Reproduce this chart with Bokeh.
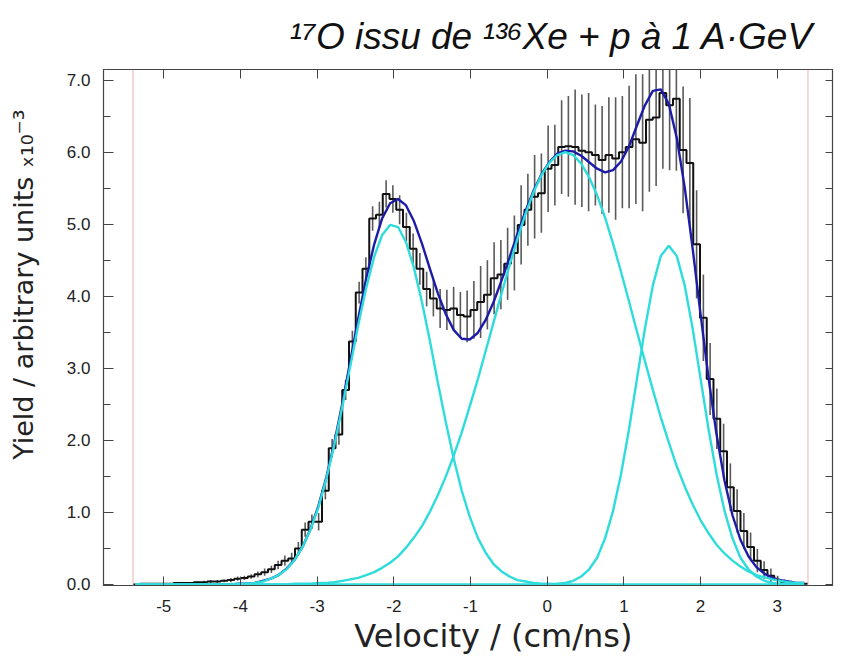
import numpy as np
from bokeh.plotting import figure
from bokeh.models import (Range1d, LinearAxis, SingleIntervalTicker,
                          NumeralTickFormatter, Span, Title)
from bokeh.embed import file_html
from bokeh.resources import INLINE

# ---------------- data ----------------
# histogram: 100 bins of width 0.088 cm/ns starting at -5.4 cm/ns
hist_start = -5.4
hist_bin = 0.088
hist_counts = [
    0.00, 0.01, 0.01, 0.01, 0.01, 0.01, 0.02, 0.02, 0.02, 0.03,
    0.03, 0.04, 0.04, 0.05, 0.06, 0.08, 0.09, 0.11, 0.14, 0.17,
    0.21, 0.27, 0.33, 0.36, 0.50, 0.76, 0.87, 0.87, 1.30, 1.89,
    2.08, 2.70, 3.37, 4.05, 4.38, 5.08, 5.13, 5.42, 5.35, 5.20,
    4.96, 4.66, 4.38, 4.10, 3.97, 3.83, 3.81, 3.83, 3.74, 3.72,
    3.81, 3.92, 4.02, 4.25, 4.30, 4.45, 4.60, 4.99, 5.20, 5.38,
    5.43, 5.77, 5.82, 6.07, 6.08, 6.07, 6.02, 6.00, 5.96, 5.89,
    5.96, 5.91, 6.00, 6.07, 6.18, 6.13, 6.45, 6.48, 6.82, 6.65,
    6.74, 6.03, 5.85, 4.72, 3.70, 2.85, 2.30, 1.85, 1.35, 1.02,
    0.74, 0.52, 0.33, 0.20, 0.12, 0.06, 0.03, 0.02, 0.01, 0.01,
]
hist_errors = [
    0.01, 0.01, 0.01, 0.01, 0.01, 0.01, 0.01, 0.01, 0.01, 0.01,
    0.02, 0.02, 0.02, 0.02, 0.03, 0.03, 0.03, 0.03, 0.04, 0.05,
    0.05, 0.06, 0.07, 0.08, 0.09, 0.10, 0.10, 0.12, 0.12, 0.13,
    0.14, 0.14, 0.15, 0.15, 0.16, 0.17, 0.18, 0.19, 0.19, 0.20,
    0.20, 0.21, 0.22, 0.24, 0.25, 0.27, 0.28, 0.30, 0.32, 0.36,
    0.40, 0.50, 0.48, 0.50, 0.48, 0.50, 0.52, 0.55, 0.50, 0.58,
    0.55, 0.60, 0.56, 0.65, 0.70, 0.80, 0.78, 0.82, 0.70, 0.75,
    0.80, 0.85, 0.78, 0.85, 0.90, 0.95, 1.00, 0.95, 1.05, 0.90,
    1.00, 0.88, 0.90, 0.75, 0.60, 0.50, 0.42, 0.38, 0.33, 0.30,
    0.25, 0.20, 0.16, 0.12, 0.10, 0.06, 0.04, 0.03, 0.02, 0.01,
]

# fit curves, sampled at 85 evenly spaced velocities from -5.37 to 3.35
curve_from, curve_to = -5.37, 3.35
fit_g1 = [
    0, 0, 0, 0, 0, 0, 0, 0, 0, 0, 0, 0, 0,
    0.01, 0.01, 0.02, 0.04, 0.08, 0.13, 0.21, 0.34, 0.52, 0.76,
    1.07, 1.47, 1.94, 2.47, 3.03, 3.60, 4.12, 4.55, 4.85, 4.99,
    4.96, 4.75, 4.39, 3.92, 3.38, 2.80, 2.25, 1.74, 1.30, 0.94,
    0.65, 0.44, 0.28, 0.18, 0.11, 0.06, 0.04, 0.02, 0.01, 0.01,
    0, 0, 0, 0, 0, 0, 0, 0, 0, 0, 0, 0, 0, 0, 0, 0,
    0, 0, 0, 0, 0, 0, 0, 0, 0, 0, 0, 0, 0, 0, 0, 0,
]
fit_g2 = [
    0, 0, 0, 0, 0, 0, 0, 0, 0, 0, 0, 0, 0, 0, 0, 0, 0,
    0.00, 0.00, 0.00, 0.01, 0.01, 0.01,
    0.02, 0.02, 0.03, 0.05, 0.07, 0.09, 0.13, 0.17, 0.23, 0.30,
    0.39, 0.51, 0.65, 0.81, 1.01, 1.24, 1.50, 1.79, 2.11, 2.47,
    2.84, 3.24, 3.64, 4.04, 4.43, 4.80, 5.14, 5.44, 5.68, 5.85,
    5.96, 6.00, 5.96, 5.84, 5.65, 5.40, 5.09, 4.73, 4.34, 3.93,
    3.51, 3.10, 2.70, 2.32, 1.97, 1.64, 1.36, 1.11, 0.89, 0.71,
    0.55, 0.43, 0.33, 0.25, 0.18, 0.13, 0.10, 0.07, 0.05, 0.03,
    0.02, 0.02,
]
fit_g3 = [0] * 52 + [
    0.00, 0.01, 0.02, 0.05, 0.11, 0.21, 0.37, 0.64, 1.02, 1.53,
    2.15, 2.85, 3.55, 4.15, 4.56, 4.70, 4.56, 4.15, 3.55, 2.85,
    2.15, 1.53, 1.02, 0.64, 0.37, 0.21, 0.11, 0.05, 0.02, 0.01,
    0.00, 0.00, 0.00,
]
fit_total = [0] * 13 + [
    0.01, 0.01, 0.02, 0.05, 0.08, 0.13, 0.22, 0.34, 0.52, 0.77,
    1.09, 1.49, 1.97, 2.51, 3.10, 3.69, 4.25, 4.72, 5.08, 5.29,
    5.35, 5.26, 5.04, 4.73, 4.38, 4.04, 3.75, 3.53, 3.41, 3.40,
    3.49, 3.67, 3.92, 4.22, 4.54, 4.87, 5.18, 5.46, 5.69, 5.86,
    5.98, 6.02, 6.01, 5.95, 5.86, 5.77, 5.72, 5.75, 5.87, 6.08,
    6.37, 6.65, 6.85, 6.87, 6.67, 6.20, 5.51, 4.66, 3.74, 2.86,
    2.08, 1.44, 0.96, 0.62, 0.39, 0.24, 0.15, 0.09, 0.06, 0.04,
    0.02, 0.02,
]
fit_limits = [-5.40, 3.40]

title_text = "¹⁷O issu de ¹³⁶Xe + p à 1 A·GeV"
x_title = "Velocity / (cm/ns)"
y_title = "Yield / arbitrary units ₓ₁₀⁻³"

# ---------------- derived arrays ----------------
counts = np.array(hist_counts)
errs = np.array(hist_errors)
edges = hist_start + hist_bin * np.arange(len(counts) + 1)
centers = edges[:-1] + hist_bin / 2
cx = np.linspace(curve_from, curve_to, len(fit_total))

# ---------------- figure ----------------
PX_X0, PX_PER_X = 546.7, 76.7      # canvas px of v=0 and px per cm/ns
PX_Y0, PX_PER_Y = 585.0, 72.2
L, R, T, B = 103, 832, 69, 585
W, H = 844, 661


def vx(px):
    return (px - PX_X0) / PX_PER_X


def vy(py):
    return (PX_Y0 - py) / PX_PER_Y


p = figure(width=W, height=H, output_backend="svg", toolbar_location=None,
           x_range=Range1d(vx(L), vx(R)), y_range=Range1d(vy(B) - 0.015, vy(T)),
           min_border_left=L, min_border_right=W - R,
           min_border_top=T, min_border_bottom=H - B,
           title=None)
p.background_fill_color = "white"
p.border_fill_color = "white"
p.grid.visible = False
p.outline_line_color = "#444444"
p.outline_line_width = 1.2

tick_font = "Liberation Sans"
label_font = "DejaVu Sans"
frame_col = "#444444"
text_col = "#222222"
nbsp = "\u00a0"

xa = p.xaxis[0]
xa.ticker = SingleIntervalTicker(interval=1, num_minor_ticks=0)
xa.formatter = NumeralTickFormatter(format="0")
xa.major_tick_in, xa.major_tick_out = 9, 0
xa.minor_tick_line_color = None
xa.axis_line_color = frame_col
xa.major_tick_line_color = frame_col
xa.major_label_standoff = 14
xa.major_label_text_font = tick_font
xa.major_label_text_font_size = "17px"
xa.major_label_text_color = text_col
# leading no-break spaces move the centred label right, as in the reference
xa.axis_label = nbsp * 5 + x_title
xa.axis_label_standoff = 2
xa.axis_label_text_font = label_font
xa.axis_label_text_font_size = "32px"
xa.axis_label_text_font_style = "normal"
xa.axis_label_text_color = text_col

ya = p.yaxis[0]
ya.ticker = SingleIntervalTicker(interval=1, num_minor_ticks=2)
ya.formatter = NumeralTickFormatter(format="0.0")
ya.major_tick_in, ya.major_tick_out = 10, 0
ya.minor_tick_in, ya.minor_tick_out = 7, 0
ya.axis_line_color = frame_col
ya.major_tick_line_color = frame_col
ya.minor_tick_line_color = frame_col
ya.major_label_standoff = 13
ya.major_label_text_font = tick_font
ya.major_label_text_font_size = "17px"
ya.major_label_text_color = text_col
# leading no-break spaces move the centred label up, as in the reference
ya.axis_label = nbsp * 10 + y_title
ya.axis_label_standoff = 25
ya.axis_label_text_font = label_font
ya.axis_label_text_font_size = "27px"
ya.axis_label_text_font_style = "normal"
ya.axis_label_text_color = text_col

top = LinearAxis(ticker=SingleIntervalTicker(interval=1, num_minor_ticks=0),
                 major_tick_in=9, major_tick_out=0, minor_tick_line_color=None,
                 major_label_text_font_size="1px", major_label_text_color=None,
                 major_label_standoff=0,
                 axis_line_color=frame_col, major_tick_line_color=frame_col)
p.add_layout(top, "above")
right = LinearAxis(ticker=SingleIntervalTicker(interval=0.5, num_minor_ticks=0),
                   major_tick_in=7, major_tick_out=0, minor_tick_line_color=None,
                   major_label_text_font_size="1px", major_label_text_color=None,
                   major_label_standoff=0,
                   axis_line_color=frame_col, major_tick_line_color=frame_col)
p.add_layout(right, "right")

p.add_layout(Title(text=title_text, align="right", offset=19, standoff=22,
                   vertical_align="top", text_font="Liberation Sans",
                   text_font_style="italic", text_font_size="37px",
                   text_color="#111111"), "above")

# fit-range limits
for loc in fit_limits:
    p.add_layout(Span(location=loc, dimension="height", line_color="#eab0b0",
                      line_width=1))

# error bars and histogram
p.segment(x0=centers, y0=counts - errs, x1=centers, y1=counts + errs,
          line_color="#5a5a5a", line_width=1.6)
p.step(x=edges, y=np.append(counts, counts[-1]), mode="after",
       line_color="#111111", line_width=2)

# fit: total then components
p.line(cx, fit_total, line_color="#1c1ca6", line_width=2.4)
for comp in (fit_g1, fit_g2, fit_g3):
    p.line(cx, comp, line_color="#2edcdc", line_width=2.4)

open("out.html", "w").write(file_html(p, INLINE))
